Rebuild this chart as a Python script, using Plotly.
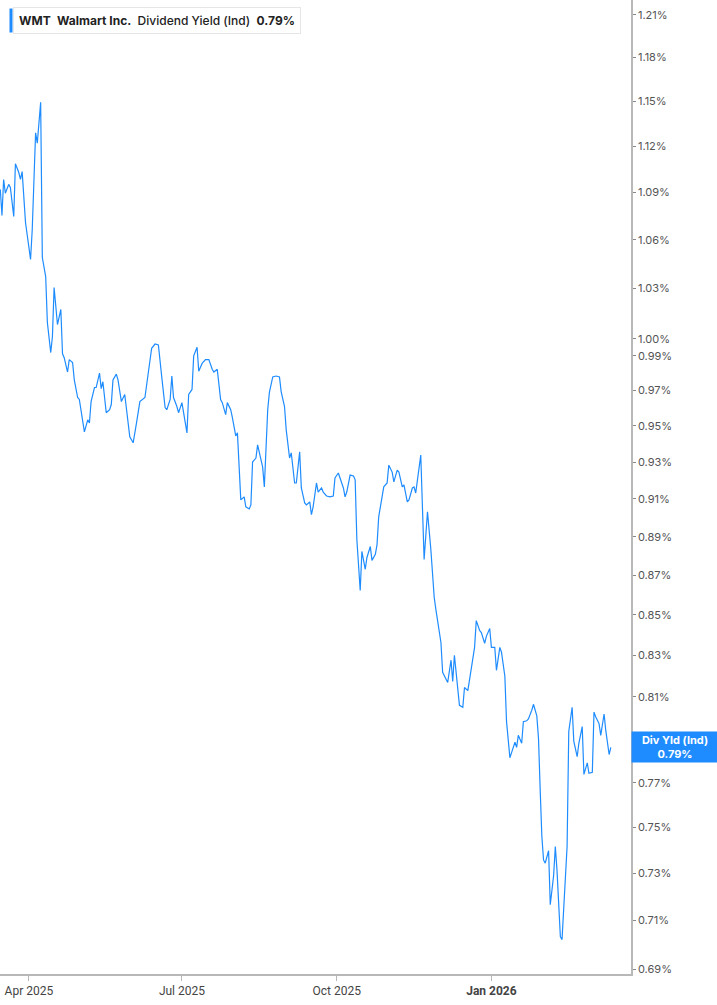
import math
import pandas as pd
import plotly.graph_objects as go

# days since 2025-03-15 and dividend yield (%)
start_date = "2025-03-15"
days = [0, 1, 2, 3, 5, 6, 8, 9, 11, 12, 13, 15, 18, 19, 21, 22, 24, 25, 27, 28,
        30, 31, 32, 34, 36, 37, 38, 40, 41, 43, 44, 46, 47, 49, 50, 52, 53, 54, 56, 57,
        59, 60, 61, 63, 65, 66, 67, 69, 70, 72, 74, 77, 79, 81, 83, 86, 89, 90, 92, 94,
        96, 98, 99, 101, 102, 103, 105, 106, 108, 109, 111, 112, 114, 115, 117, 118, 120, 122, 124, 126,
        127, 129, 131, 132, 134, 135, 137, 138, 140, 141, 143, 145, 146, 148, 149, 150, 152, 153, 155, 156,
        157, 159, 160, 162, 164, 166, 167, 169, 170, 172, 173, 175, 176, 178, 179, 181, 182, 184, 185, 186,
        188, 189, 191, 192, 194, 196, 198, 199, 201, 202, 204, 205, 206, 208, 210, 211, 212, 214, 215, 217,
        218, 220, 221, 223, 224, 225, 227, 228, 230, 231, 233, 234, 236, 237, 239, 240, 242, 243, 245, 246,
        247, 249, 250, 252, 253, 254, 256, 258, 259, 261, 262, 263, 265, 266, 268, 269, 270, 272, 273, 275,
        276, 278, 279, 280, 282, 283, 285, 286, 288, 289, 291, 292, 294, 295, 297, 298, 300, 301, 303, 304,
        306, 307, 308, 310, 311, 313, 314, 316, 317, 319, 320, 321, 322, 323, 324, 326, 327, 329, 330, 331,
        333, 334, 336, 337, 338, 340, 341, 343, 344, 346, 347, 349, 350, 352, 353, 354, 356, 357, 359, 360,
        362, 363]
div_yield = [1.0919, 1.0753, 1.0983, 1.0894, 1.0951, 1.0932, 1.0747, 1.1085, 1.1028, 1.0983,
             1.1034, 1.0708, 1.0478, 1.0664, 1.1289, 1.1220, 1.1493, 1.0490, 1.0373, 1.0096,
             0.9919, 1.0012, 1.0306, 1.0084, 1.0174, 0.9912, 0.9889, 0.9806, 0.9878, 0.9861,
             0.9761, 0.9660, 0.9649, 0.9517, 0.9467, 0.9534, 0.9517, 0.9637, 0.9717, 0.9717,
             0.9800, 0.9711, 0.9750, 0.9574, 0.9591, 0.9620, 0.9761, 0.9794, 0.9761, 0.9637,
             0.9677, 0.9439, 0.9406, 0.9517, 0.9637, 0.9660, 0.9889, 0.9944, 0.9969, 0.9963,
             0.9778, 0.9603, 0.9591, 0.9649, 0.9783, 0.9660, 0.9609, 0.9574, 0.9631, 0.9574,
             0.9461, 0.9677, 0.9706, 0.9900, 0.9950, 0.9811, 0.9856, 0.9878, 0.9878, 0.9822,
             0.9806, 0.9822, 0.9649, 0.9631, 0.9563, 0.9631, 0.9591, 0.9546, 0.9444, 0.9461,
             0.9095, 0.9111, 0.9058, 0.9047, 0.9068, 0.9300, 0.9322, 0.9394, 0.9322, 0.9272,
             0.9165, 0.9591, 0.9689, 0.9778, 0.9783, 0.9778, 0.9694, 0.9609, 0.9478, 0.9322,
             0.9350, 0.9186, 0.9186, 0.9356, 0.9159, 0.9079, 0.9068, 0.9084, 0.9016, 0.9058,
             0.9186, 0.9137, 0.9159, 0.9137, 0.9116, 0.9111, 0.9116, 0.9213, 0.9240, 0.9213,
             0.9159, 0.9111, 0.9137, 0.9229, 0.9224, 0.9203, 0.8885, 0.8623, 0.8823, 0.8731,
             0.8792, 0.8849, 0.8777, 0.8808, 0.8859, 0.9005, 0.9122, 0.9165, 0.9186, 0.9283,
             0.9245, 0.9192, 0.9256, 0.9245, 0.9165, 0.9176, 0.9084, 0.9095, 0.9159, 0.9165,
             0.9132, 0.9267, 0.9338, 0.8782, 0.8921, 0.9032, 0.8833, 0.8587, 0.8526, 0.8412,
             0.8363, 0.8217, 0.8188, 0.8168, 0.8276, 0.8173, 0.8300, 0.8134, 0.8059, 0.8050,
             0.8144, 0.8129, 0.8183, 0.8217, 0.8339, 0.8471, 0.8422, 0.8412, 0.8359, 0.8393,
             0.8432, 0.8339, 0.8339, 0.8227, 0.8339, 0.8315, 0.8198, 0.7982, 0.7814, 0.7838,
             0.7886, 0.7862, 0.7918, 0.7881, 0.7982, 0.7986, 0.7995, 0.8036, 0.8064, 0.8009,
             0.7905, 0.7669, 0.7460, 0.7358, 0.7344, 0.7398, 0.7167, 0.7291, 0.7416, 0.7313,
             0.7033, 0.7021, 0.7283, 0.7416, 0.7936, 0.8050, 0.7890, 0.7819, 0.7881, 0.7959,
             0.7738, 0.7791, 0.7743, 0.7748, 0.8027, 0.8005, 0.7973, 0.7918, 0.8018, 0.7941,
             0.7829, 0.7862]

# 0.79% sits under the last-value tag, so it is left out
y_ticks = [1.21, 1.18, 1.15, 1.12, 1.09, 1.06, 1.03, 1.00, 0.99, 0.97, 0.95, 0.93,
           0.91, 0.89, 0.87, 0.85, 0.83, 0.81, 0.77, 0.75, 0.73, 0.71, 0.69]
x_ticks = ["2025-04-01", "2025-07-01", "2025-10-01", "2026-01-01"]
x_tick_labels = ["Apr 2025", "Jul 2025", "Oct 2025", "<b>Jan 2026</b>"]

dates = pd.Timestamp(start_date) + pd.to_timedelta(days, unit="D")
last_val = div_yield[-1]

blue = "#1e8cff"
axis_grey = "#b8b8b8"

fig = go.Figure()
fig.add_trace(go.Scatter(
    x=dates, y=div_yield, mode="lines",
    line=dict(color=blue, width=1.2),
    hoverinfo="x+y", showlegend=False,
))

# header box top-left, blue marker bar on its left edge
fig.add_annotation(
    xref="paper", yref="paper", x=13 / 631, y=1 - 20.5 / 974,
    xanchor="left", yanchor="middle",
    text="<b>WMT</b>&nbsp;&nbsp;<b>Walmart Inc.</b>&nbsp;&nbsp;Dividend Yield (Ind)&nbsp;&nbsp;<b>0.79%</b>",
    font=dict(family="Inter, Roboto, sans-serif", size=12, color="#222222", weight=500),
    showarrow=False, bgcolor="white", bordercolor="#e6e6e6", borderwidth=1, borderpad=5,
)
fig.add_annotation(
    xref="paper", yref="paper", x=13 / 631, y=1 - 20.5 / 974,
    xanchor="right", yanchor="middle", text="", width=2, height=23,
    showarrow=False, bgcolor=blue, borderpad=0,
)

# last value tag on the right axis
fig.add_annotation(
    xref="paper", yref="y", x=1.0, y=math.log10(last_val),
    xanchor="left", yanchor="middle",
    text="<b>Div Yld (Ind)</b><br><b>%.2f%%</b>" % last_val,
    font=dict(family="Inter, Roboto, sans-serif", size=11, color="white"),
    showarrow=False, bgcolor=blue, borderpad=1, width=84, align="center",
)

fig.update_layout(
    width=717, height=1005,
    margin=dict(l=0, r=86, t=0, b=31),
    plot_bgcolor="white", paper_bgcolor="white",
    xaxis=dict(
        range=["2025-03-14 20:00", "2026-03-25"],
        tickvals=x_ticks, ticktext=x_tick_labels,
        showgrid=False, zeroline=False,
        showline=True, linecolor=axis_grey, linewidth=1.5,
        ticks="outside", ticklen=5, tickcolor=axis_grey,
        tickfont=dict(family="Liberation Sans Narrow, Roboto, sans-serif", size=12, color="#444444"),
    ),
    yaxis=dict(
        type="log", side="right",
        range=[-0.1624, 0.0866],
        tickvals=y_ticks, ticktext=["%.2f%%" % v for v in y_ticks],
        showgrid=False, zeroline=False,
        showline=True, linecolor=axis_grey, linewidth=1.5,
        ticks="outside", ticklen=3, tickcolor="#888888",
        tickfont=dict(family="Inter, Roboto, sans-serif", size=11, color="#555555"),
    ),
)

# drop the page's default body margin so the figure sits at the window's corner
fig.write_html("out.html", config={"displayModeBar": False},
               post_script="document.body.style.margin='0';")
